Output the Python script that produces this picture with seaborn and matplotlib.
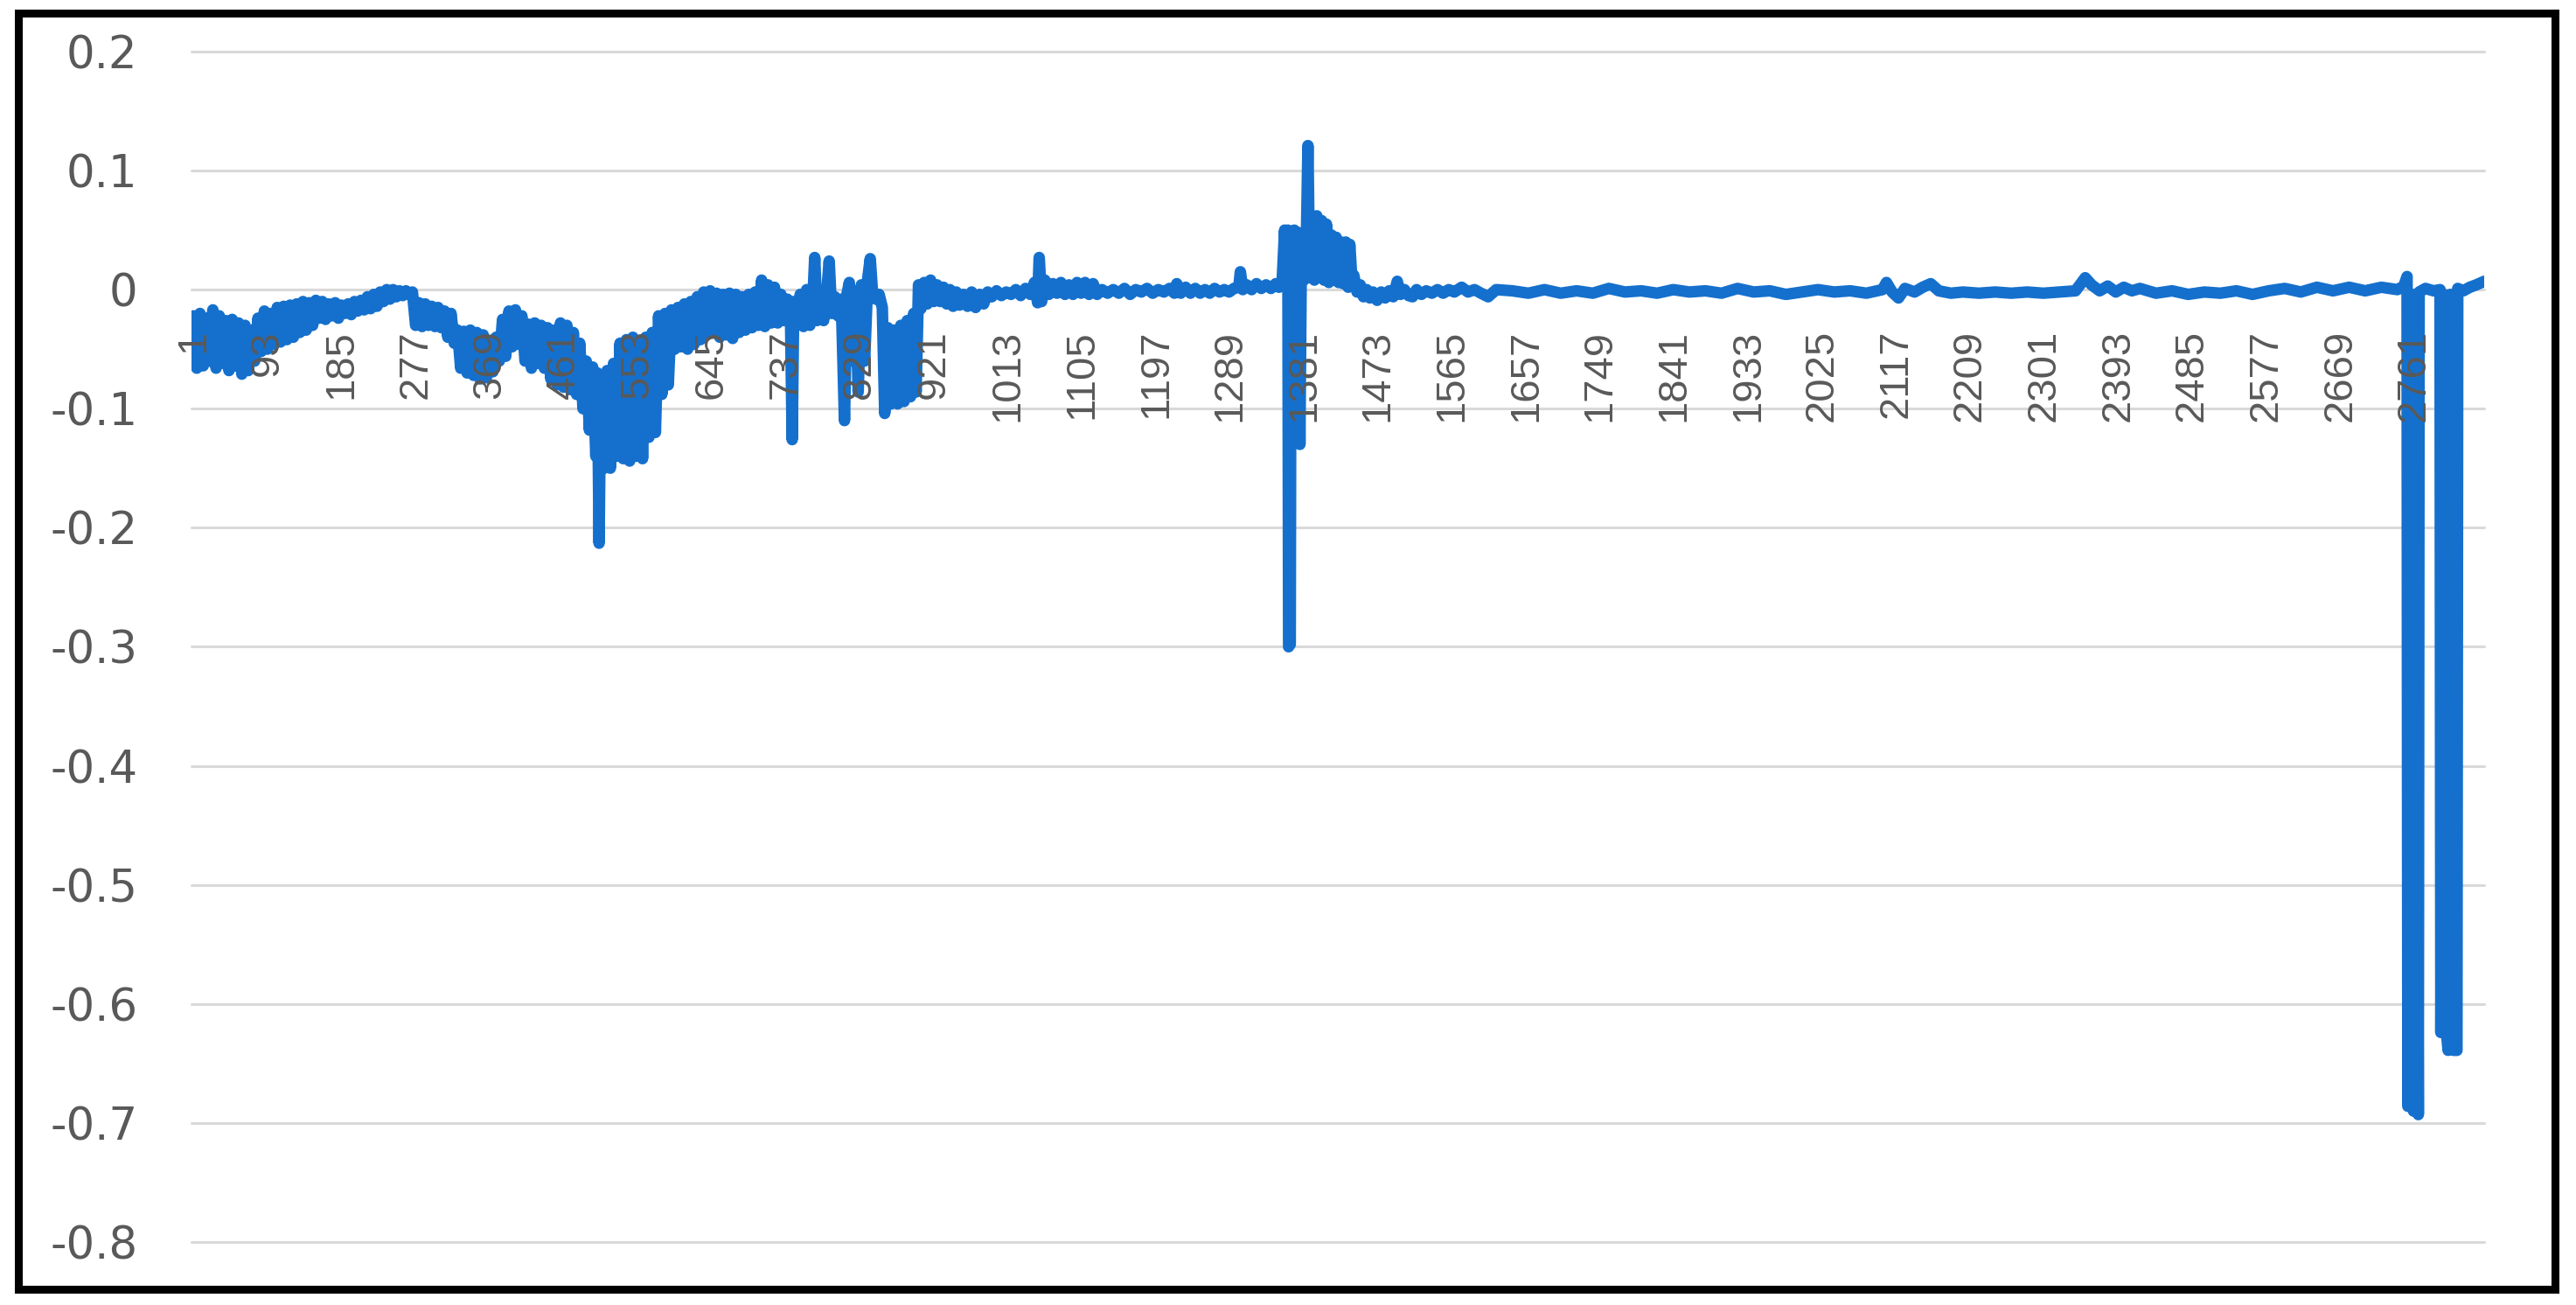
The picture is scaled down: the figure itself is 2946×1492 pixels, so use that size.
import pandas as pd
import matplotlib.pyplot as plt
import seaborn as sns
from matplotlib.patches import Rectangle

# values as (row number, value) pairs
start_pts = [
    (1, -0.022), (5, -0.066), (9, -0.020), (13, -0.064), (17, -0.024), (21, -0.060),
    (25, -0.017), (29, -0.066), (33, -0.022), (37, -0.062), (41, -0.026), (45, -0.068),
    (49, -0.025), (53, -0.064), (57, -0.028), (61, -0.071), (65, -0.030), (69, -0.068),
    (73, -0.034), (77, -0.060), (81, -0.024), (85, -0.052), (89, -0.018), (93, -0.050),
    (97, -0.020), (101, -0.046), (105, -0.015), (109, -0.044), (113, -0.014), (117, -0.042),
    (121, -0.013), (125, -0.040), (129, -0.012), (133, -0.036), (137, -0.010), (141, -0.034),
    (145, -0.011), (149, -0.030), (153, -0.009), (157, -0.024), (161, -0.010), (165, -0.025),
    (169, -0.012), (173, -0.022), (177, -0.011), (181, -0.024), (185, -0.013), (189, -0.020),
    (193, -0.012), (197, -0.021), (201, -0.010), (205, -0.018), (209, -0.009), (213, -0.017),
    (217, -0.006), (221, -0.016), (225, -0.004), (229, -0.014), (233, -0.002), (237, -0.010),
    (241, 0.000), (245, -0.008), (249, 0.000), (253, -0.006), (257, -0.001), (261, -0.005),
    (265, -0.001), (269, -0.004), (273, -0.002), (277, -0.030), (281, -0.011), (285, -0.031),
    (289, -0.012), (293, -0.030), (297, -0.014), (301, -0.031), (305, -0.015), (309, -0.032),
    (313, -0.018), (317, -0.040), (321, -0.020), (325, -0.045), (329, -0.034), (333, -0.066),
    (337, -0.035), (341, -0.070), (345, -0.034), (349, -0.072), (353, -0.036), (357, -0.075),
    (361, -0.038), (365, -0.074), (369, -0.044), (373, -0.069), (377, -0.040), (381, -0.060),
    (385, -0.025), (389, -0.056), (393, -0.018), (397, -0.048), (401, -0.017), (405, -0.046),
    (409, -0.022), (413, -0.060), (417, -0.029), (421, -0.066), (425, -0.028), (429, -0.062),
    (433, -0.030), (437, -0.066), (441, -0.032), (445, -0.075), (449, -0.034), (453, -0.080),
    (457, -0.028), (461, -0.082), (465, -0.030), (469, -0.084),
]

dip_pts = [
    (473, -0.036), (477, -0.088), (481, -0.045), (485, -0.100), (489, -0.060), (493, -0.118),
    (497, -0.065), (501, -0.140), (503, -0.070), (505, -0.213), (507, -0.075), (511, -0.150),
    (515, -0.068), (519, -0.150), (523, -0.062), (527, -0.140), (531, -0.045), (535, -0.142),
    (539, -0.042), (543, -0.144), (547, -0.040), (551, -0.140), (555, -0.044), (559, -0.142),
    (563, -0.040), (567, -0.124), (571, -0.036), (575, -0.120), (579, -0.022), (583, -0.088),
    (587, -0.020), (591, -0.080), (595, -0.017), (599, -0.050), (603, -0.015), (607, -0.048),
    (611, -0.012), (615, -0.050), (619, -0.010), (623, -0.046), (627, -0.006), (631, -0.042),
    (635, -0.002), (639, -0.036), (643, -0.001), (647, -0.034), (651, -0.003), (655, -0.040),
    (659, -0.004), (663, -0.038), (667, -0.003), (671, -0.041), (675, -0.004), (679, -0.036),
    (683, -0.006), (687, -0.034), (691, -0.004), (695, -0.032), (699, -0.002), (703, -0.030),
    (707, 0.008), (711, -0.031), (715, 0.004), (719, -0.028), (723, 0.002), (727, -0.028),
    (731, -0.004), (735, -0.026), (739, -0.008), (743, -0.028), (745, -0.126), (747, -0.010),
    (751, -0.030), (755, -0.004), (759, -0.031), (763, 0.000), (767, -0.030), (771, -0.004),
    (773, 0.027), (776, -0.026), (780, -0.003), (784, -0.026), (788, -0.002), (791, 0.024),
    (794, -0.020), (798, -0.006), (802, -0.022), (806, -0.008), (810, -0.110), (813, -0.004),
    (816, 0.006), (820, -0.060), (824, -0.004), (827, -0.086), (831, 0.004), (835, -0.060),
    (839, 0.010), (842, 0.026), (845, -0.004), (849, -0.008), (853, -0.004), (857, -0.015),
    (860, -0.104), (864, -0.032), (868, -0.096), (872, -0.034), (876, -0.096), (880, -0.030),
    (884, -0.094), (888, -0.026), (892, -0.090), (896, -0.020), (899, -0.086), (902, 0.004),
    (905, -0.016), (909, 0.006), (913, -0.012), (917, 0.008), (921, -0.010), (925, 0.004),
    (929, -0.010), (933, 0.002), (937, -0.012), (941, 0.000), (945, -0.014), (949, -0.002),
    (953, -0.013),
]

calm_pts = [
    (958, -0.004), (963, -0.014), (968, -0.002), (973, -0.015), (978, -0.004), (983, -0.012),
    (988, -0.002), (993, -0.006), (999, -0.001), (1005, -0.005), (1011, -0.002), (1017, -0.004),
    (1023, 0.000), (1029, -0.005), (1035, 0.001), (1041, -0.004), (1046, 0.006), (1050, -0.011),
    (1052, 0.027), (1055, -0.010), (1059, 0.008), (1064, -0.004), (1069, 0.005), (1074, -0.003),
    (1079, 0.006), (1084, -0.004), (1089, 0.004), (1094, -0.004), (1099, 0.006), (1104, -0.003),
    (1109, 0.006), (1114, -0.004), (1119, 0.005), (1124, -0.004), (1130, 0.000), (1137, -0.003),
    (1144, 0.000), (1151, -0.003), (1158, 0.001), (1165, -0.004), (1172, 0.000), (1179, -0.002),
    (1186, 0.001), (1193, -0.003), (1200, 0.000), (1207, -0.002), (1214, 0.001), (1220, -0.003),
    (1223, 0.005), (1228, -0.003), (1234, 0.002), (1240, -0.003), (1246, 0.001), (1252, -0.003),
    (1258, 0.000), (1264, -0.003), (1270, 0.001), (1276, -0.002), (1282, 0.000), (1288, -0.002),
    (1294, 0.001), (1300, 0.002), (1302, 0.015), (1305, 0.000), (1310, 0.004), (1316, 0.000),
    (1322, 0.005), (1328, 0.001), (1334, 0.004), (1340, 0.001), (1346, 0.005), (1350, 0.002),
    (1354, 0.008),
]

jump_pts = [
    (1357, 0.050), (1359, 0.004), (1361, 0.050), (1362, -0.300), (1364, -0.298), (1365, 0.048),
    (1367, 0.003), (1369, 0.050), (1372, 0.006), (1374, 0.048), (1376, -0.130), (1378, 0.046),
    (1381, 0.008), (1384, 0.040), (1386, 0.121), (1388, 0.010), (1391, 0.055), (1394, 0.008),
    (1397, 0.062), (1400, 0.010), (1403, 0.058), (1406, 0.008), (1409, 0.055), (1412, 0.006),
    (1415, 0.046), (1418, 0.008), (1421, 0.044), (1424, 0.006), (1427, 0.040), (1430, 0.005),
    (1433, 0.040), (1436, 0.002), (1438, 0.038), (1441, 0.004), (1443, 0.012), (1447, -0.002),
    (1451, 0.004), (1455, -0.006), (1459, 0.000), (1463, -0.007), (1467, -0.002), (1472, -0.009),
    (1477, -0.002), (1482, -0.007), (1487, -0.001), (1492, -0.006), (1497, 0.007), (1501, -0.004),
    (1506, 0.000), (1511, -0.005), (1516, -0.006), (1521, 0.000), (1527, -0.004), (1533, -0.001),
    (1540, -0.003), (1547, 0.000), (1554, -0.003), (1561, 0.000), (1568, -0.002), (1577, 0.002),
    (1585, -0.002), (1593, 0.000), (1601, -0.003), (1610, -0.006), (1620, 0.000),
]

flat_pts = [
    (1640, -0.001), (1660, -0.003), (1680, 0.000), (1700, -0.003), (1720, -0.001), (1740, -0.003),
    (1760, 0.001), (1780, -0.002), (1800, -0.001), (1820, -0.003), (1840, 0.000), (1860, -0.002),
    (1880, -0.001), (1900, -0.003), (1920, 0.001), (1940, -0.002), (1960, -0.001), (1980, -0.004),
    (2000, -0.002), (2020, 0.000), (2040, -0.002), (2060, -0.001), (2080, -0.003), (2100, 0.000),
    (2105, 0.006), (2112, -0.002), (2120, -0.007), (2128, 0.001), (2140, -0.002), (2150, 0.002),
    (2160, 0.005), (2170, -0.001), (2185, -0.003), (2200, -0.002), (2220, -0.003), (2240, -0.002),
    (2260, -0.003), (2280, -0.002), (2300, -0.003), (2320, -0.002), (2340, -0.001), (2352, 0.010),
    (2360, 0.004), (2370, -0.001), (2380, 0.003), (2390, -0.002), (2400, 0.002), (2410, -0.001),
    (2420, 0.001), (2440, -0.003), (2460, -0.001), (2480, -0.004), (2500, -0.002), (2520, -0.003),
    (2540, -0.001), (2560, -0.004), (2580, -0.001), (2600, 0.001), (2620, -0.002), (2640, 0.002),
    (2660, -0.001), (2680, 0.002), (2700, -0.001), (2720, 0.002), (2740, 0.000),
]

tail_pts = [
    (2748, 0.003), (2752, 0.011), (2753, -0.686), (2757, -0.004), (2760, -0.690), (2763, -0.004),
    (2766, -0.693), (2767, -0.002), (2775, 0.001), (2785, -0.001), (2793, 0.000), (2794, -0.624),
    (2798, -0.004), (2801, -0.624), (2803, -0.639), (2806, -0.004), (2810, -0.639), (2814, -0.639),
    (2815, 0.001), (2822, -0.001), (2830, 0.002), (2838, 0.004), (2848, 0.007),
]

x_labels = ['1', '93', '185', '277', '369', '461', '553', '645', '737', '829', '921',
            '1013', '1105', '1197', '1289', '1381', '1473', '1565', '1657', '1749', '1841',
            '1933', '2025', '2117', '2209', '2301', '2393', '2485', '2577', '2669', '2761']
y_ticks = [-0.8, -0.7, -0.6, -0.5, -0.4, -0.3, -0.2, -0.1, 0, 0.1, 0.2]
y_labels = ['-0.8', '-0.7', '-0.6', '-0.5', '-0.4', '-0.3', '-0.2', '-0.1', '0', '0.1', '0.2']

sns.set_theme(style="white")
plt.rcParams['font.family'] = ['DejaVu Sans']

rows = start_pts + dip_pts + calm_pts + jump_pts + flat_pts + tail_pts
df = pd.DataFrame(rows, columns=['row', 'value'])

fig = plt.figure(figsize=(29.46, 14.92), dpi=100)
ax = fig.add_axes([0.0742, 0.0483, 0.8902, 0.9122])

sns.lineplot(data=df, x='row', y='value', color='#1570cd',
             estimator=None, sort=False, ax=ax)
for ln in ax.lines:
    ln.set_linewidth(9.5)
    ln.set_solid_capstyle('round')
    ln.set_solid_joinstyle('round')

ax.set_xlim(-2, 2848)
ax.set_ylim(-0.8, 0.2)
ax.set_xlabel('')
ax.set_ylabel('')

# gridlines under the line, category labels on top of it (Excel style)
ax.set_yticks(y_ticks)
ax.set_yticklabels(y_labels, fontsize=37, color='#595959')
ax.yaxis.grid(True, color='#d9d9d9', linewidth=2.2)
for gl in ax.get_ygridlines():
    gl.set_clip_on(False)
ax.xaxis.grid(False)
ax.set_axisbelow(True)
ax.xaxis.set_zorder(3)

ax.spines['bottom'].set_position(('data', 0))
for s in ax.spines.values():
    s.set_visible(False)

ax.set_xticks([int(t) for t in x_labels])
ax.set_xticklabels(x_labels, rotation=90, fontsize=34, color='#595959',
                   family=['Liberation Sans', 'DejaVu Sans'])
ax.tick_params(axis='x', length=0, pad=33)
ax.tick_params(axis='y', length=0, pad=44)

# black frame around the whole picture
fig.patches.append(Rectangle((0.00696, 0.01173), 0.98506, 0.97855, transform=fig.transFigure,
                             fill=False, edgecolor='black', linewidth=6.5))

fig.savefig('out.png', dpi=100)
